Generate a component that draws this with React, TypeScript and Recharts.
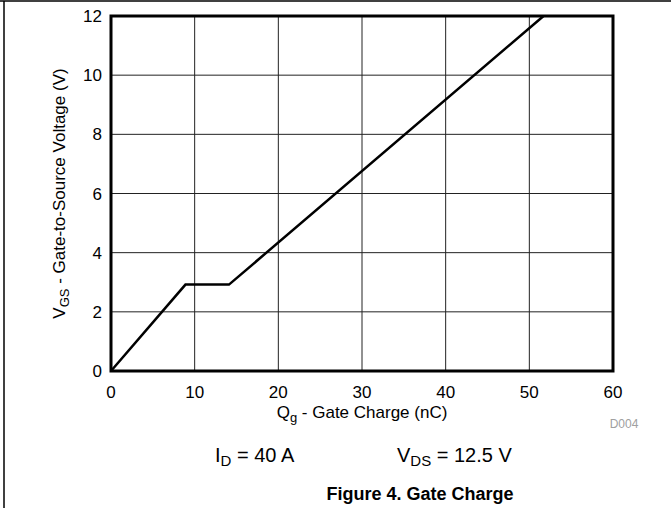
import React from 'react'
import {
  LineChart,
  Line,
  XAxis,
  YAxis,
  CartesianGrid,
  ReferenceArea,
} from 'recharts'

// gate charge curve
const charge = [0, 8.9, 14.1, 51.7]
const vgs = [0, 2.92, 2.92, 12]

const xTicks = [0, 10, 20, 30, 40, 50, 60]
const yTicks = [0, 2, 4, 6, 8, 10, 12]

const FONT = '"Liberation Sans", Arial, sans-serif'

const data = charge.map((q, i) => ({ q, v: vgs[i] }))

function XLabel({ viewBox }: any) {
  const cx = viewBox.x + viewBox.width / 2
  return (
    <text x={cx} y={viewBox.y + 47} textAnchor="middle" fontSize={17} fontFamily={FONT} fill="#000">
      Q
      <tspan fontSize={13} dy={4}>g</tspan>
      <tspan dy={-4}> - Gate Charge (nC)</tspan>
    </text>
  )
}

function YLabel({ viewBox }: any) {
  const cx = viewBox.x + 14
  const cy = viewBox.y + viewBox.height / 2
  return (
    <text
      x={cx}
      y={cy}
      transform={`rotate(-90 ${cx} ${cy})`}
      textAnchor="middle"
      fontSize={17}
      fontFamily={FONT}
      fill="#000"
    >
      V
      <tspan fontSize={13} dy={4}>GS</tspan>
      <tspan dy={-4}> - Gate-to-Source Voltage (V)</tspan>
    </text>
  )
}

export default function App() {
  return (
    <div style={{ position: 'absolute', left: 0, top: 0, width: 671, height: 508, background: '#fff' }}>
      <LineChart
        width={671}
        height={508}
        data={data}
        margin={{ top: 16, right: 58, bottom: 107, left: 51 }}
      >
        <CartesianGrid stroke="#222" strokeWidth={1} />
        <XAxis
          dataKey="q"
          type="number"
          domain={[0, 60]}
          ticks={xTicks}
          tickLine={false}
          axisLine={false}
          tickMargin={9}
          tick={{ fill: '#000', fontSize: 17, fontFamily: FONT }}
          label={<XLabel />}
        />
        <YAxis
          type="number"
          domain={[0, 12]}
          ticks={yTicks}
          width={60}
          tickLine={false}
          axisLine={false}
          tickMargin={3}
          tick={{ fill: '#000', fontSize: 17, fontFamily: FONT }}
          label={<YLabel />}
        />
        <ReferenceArea x1={0} x2={60} y1={0} y2={12} fill="none" fillOpacity={0} stroke="#000" strokeWidth={3} />
        <Line
          dataKey="v"
          stroke="#000"
          strokeWidth={2.5}
          dot={false}
          isAnimationActive={false}
          type="linear"
        />
      </LineChart>
      <svg
        width={671}
        height={508}
        style={{ position: 'absolute', left: 0, top: 0, pointerEvents: 'none' }}
      >
        <line x1={0} y1={1} x2={671} y2={1} stroke="#000" strokeWidth={1.5} />
        <line x1={4} y1={1} x2={4} y2={508} stroke="#000" strokeWidth={1.5} />
        <text x={624} y={428} textAnchor="middle" fontSize={12} fontFamily={FONT} fill="#a0a0a0">
          D004
        </text>
        <text x={215} y={462} fontSize={20} fontFamily={FONT} fill="#000">
          I<tspan fontSize={15} dy={4}>D</tspan>
          <tspan dy={-4}> = 40 A</tspan>
        </text>
        <text x={397} y={462} fontSize={20} fontFamily={FONT} fill="#000">
          V<tspan fontSize={15} dy={4}>DS</tspan>
          <tspan dy={-4}> = 12.5 V</tspan>
        </text>
        <text x={420} y={500} textAnchor="middle" fontSize={18} fontWeight="bold" fontFamily={FONT} fill="#000">
          Figure 4. Gate Charge
        </text>
      </svg>
    </div>
  )
}
